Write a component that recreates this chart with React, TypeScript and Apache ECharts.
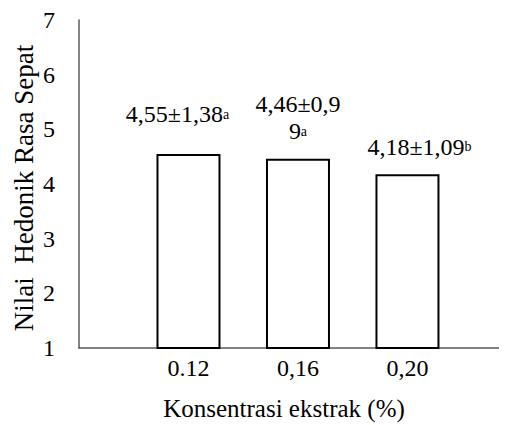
import React, { useEffect, useRef } from "react";
import * as echarts from "echarts";

const categories = ["0.12", "0,16", "0,20"];
const values = [4.55, 4.46, 4.18];
const meanLabels = ["4,55±1,38", "4,46±0,9\n9", "4,18±1,09"];
const letters = ["a", "a", "b"];
const yTicks = [1, 2, 3, 4, 5, 6, 7];
const xTitle = "Konsentrasi ekstrak (%)";
const yTitle = "Nilai  Hedonik Rasa Sepat";

const FONT = "Liberation Serif";

// label layout tweaks (not data)
const labelLayout = [
  { distance: 26, offset: [-11, 0] },
  { distance: 14, offset: [0, 0] },
  { distance: 14, offset: [12, 0] },
];

export default function App() {
  const ref = useRef<HTMLDivElement>(null);
  useEffect(() => {
    if (!ref.current) return;
    const chart = echarts.init(ref.current, null, { renderer: "svg" });
    const data = values.map((v, i) => ({
      value: [i + 1, v],
      label: {
        show: true,
        position: "top",
        distance: labelLayout[i].distance,
        offset: labelLayout[i].offset,
        formatter: () =>
          meanLabels[i]
            .split("\n")
            .map((l) => `{t|${l}}`)
            .join("\n") + `{s|${letters[i]}}`,
        rich: {
          t: { fontSize: 24, fontFamily: FONT, color: "#000", lineHeight: 27, verticalAlign: "middle" },
          s: { fontSize: 14, fontFamily: FONT, color: "#000", lineHeight: 27, verticalAlign: "middle" },
        },
      },
    }));
    chart.setOption({
      animation: false,
      backgroundColor: "#fff",
      grid: { left: 71, right: 1, top: 9, bottom: 77 },
      xAxis: {
        type: "value",
        min: 0,
        max: 3.9,
        interval: 1,
        splitLine: { show: false },
        axisTick: { show: false },
        axisLine: { show: true, lineStyle: { color: "#595959", width: 1.5 } },
        axisLabel: {
          margin: 8,
          fontSize: 24,
          fontFamily: FONT,
          color: "#000",
          showMaxLabel: false,
          formatter: (v: number) =>
            Number.isInteger(v) && v >= 1 && v <= categories.length ? categories[v - 1] : "",
        },
      },
      yAxis: {
        type: "value",
        min: yTicks[0],
        max: yTicks[yTicks.length - 1],
        interval: 1,
        splitLine: { show: false },
        axisTick: { show: false },
        axisLine: { show: true, lineStyle: { color: "#595959", width: 1.5 } },
        axisLabel: { margin: 24, fontSize: 24, fontFamily: FONT, color: "#000" },
      },
      graphic: [
        {
          type: "text",
          x: 276,
          y: 400,
          style: {
            text: xTitle,
            fontSize: 25,
            fontFamily: FONT,
            fill: "#000",
            align: "center",
            verticalAlign: "middle",
          },
        },
        {
          type: "text",
          x: 16,
          y: 180,
          rotation: Math.PI / 2,
          style: {
            text: yTitle,
            fontSize: 27,
            fontFamily: FONT,
            fill: "#000",
            align: "center",
            verticalAlign: "middle",
          },
        },
      ],
      series: [
        {
          type: "bar",
          barWidth: 64,
          data,
          itemStyle: { color: "#fff", borderColor: "#000", borderWidth: 2 },
        },
      ],
    });
    return () => chart.dispose();
  }, []);
  return (
    <div style={{ position: "relative" }}>
      <div ref={ref} style={{ width: 499, height: 417 }} />
    </div>
  );
}
